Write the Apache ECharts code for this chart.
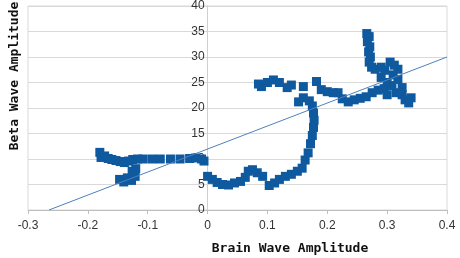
<!DOCTYPE html>
<html>
<head>
<meta charset="utf-8">
<script src="https://cdn.jsdelivr.net/npm/echarts@6/dist/echarts.min.js"></script>
<style>
  html, body { margin: 0; padding: 0; background: #fff; }
  #chart { width: 460px; height: 258px; }
</style>
</head>
<body>
<div id="chart"></div>
<script>
// brain wave amplitude (x) and beta wave amplitude (y)
const brainX = [
  -0.180, -0.178, -0.172, -0.166, -0.160, -0.153, -0.146, -0.139, -0.132, -0.125,
  -0.117, -0.108, -0.093, -0.079, -0.062, -0.046, -0.030, -0.020, -0.010, -0.006,
  -0.147, -0.140, -0.134, -0.127, -0.121, -0.126, -0.120,
  0.000, 0.008, 0.016, 0.025, 0.035, 0.045, 0.055, 0.063, 0.068, 0.075,
  0.083, 0.092, 0.103, 0.112, 0.120, 0.130, 0.140, 0.150, 0.158, 0.163,
  0.168, 0.172, 0.175, 0.177, 0.178, 0.177, 0.175, 0.170, 0.160, 0.152,
  0.160, 0.140, 0.133, 0.120, 0.110, 0.100, 0.090, 0.085,
  0.182, 0.190, 0.200, 0.210, 0.218, 0.225, 0.235, 0.245, 0.255, 0.265,
  0.275, 0.285,
  0.266, 0.270, 0.267, 0.271, 0.269, 0.272, 0.270, 0.274, 0.280, 0.290,
  0.296, 0.305, 0.312, 0.318,
  0.290, 0.300, 0.308, 0.318, 0.315, 0.300, 0.325, 0.325, 0.330, 0.336,
  0.340, 0.295, 0.310
];
const betaY = [
  11.3, 10.3, 10.6, 10.1, 9.9, 9.7, 9.5, 9.3, 9.6, 9.9,
  10.0, 10.0, 10.0, 10.0, 10.0, 10.0, 10.1, 10.2, 10.0, 9.6,
  6.0, 5.5, 6.3, 5.8, 6.6, 7.6, 8.1,
  6.6, 6.0, 5.4, 5.0, 4.9, 5.3, 5.6, 6.4, 7.6, 7.9,
  7.3, 6.6, 4.8, 5.3, 6.0, 6.6, 7.0, 7.6, 8.2, 9.8,
  11.2, 13.0, 14.6, 16.2, 17.6, 19.0, 20.4, 21.4, 22.0, 21.2,
  24.2, 24.5, 24.0, 25.0, 25.5, 25.0, 24.2, 24.7,
  25.2, 23.6, 23.2, 23.0, 23.0, 21.8, 21.2, 21.6, 21.9, 22.2,
  23.0, 23.5,
  34.6, 34.0, 33.0, 32.0, 31.0, 30.0, 29.0, 28.0, 27.6, 28.0,
  27.4, 29.0, 28.4, 27.6,
  26.0, 25.0, 24.4, 25.6, 23.0, 22.6, 24.0, 22.6, 21.6, 21.0,
  22.0, 23.8, 26.5
];

// linear trendline end points
const trendX = [-0.265, 0.4];
const trendY = [0, 30];

const xTicks = [-0.3, -0.2, -0.1, 0, 0.1, 0.2, 0.3, 0.4];
const yTicks = [0, 5, 10, 15, 20, 25, 30, 35, 40];

const points = brainX.map((x, i) => [x, betaY[i]]);
const trend = trendX.map((x, i) => [x, trendY[i]]);

const gridLeft = 28, gridRight = 13;
const plotW = 460 - gridLeft - gridRight;
// shift the y axis (line + labels) over to x = 0
const zeroShift = plotW * (0 - xTicks[0]) / (xTicks[xTicks.length - 1] - xTicks[0]);

const labelFont = { fontFamily: 'Liberation Sans', fontSize: 12, color: '#333' };
const titleFont = { fontFamily: 'DejaVu Sans Mono', fontSize: 13, fontWeight: 'bold', fill: '#111' };

let myChart = echarts.init(document.getElementById('chart'), null, { renderer: 'canvas' });
myChart.setOption({
  animation: false,
  grid: {
    left: gridLeft, right: gridRight, top: 6, bottom: 48,
    show: true, borderColor: '#d9d9d9', borderWidth: 1
  },
  xAxis: {
    type: 'value',
    min: xTicks[0], max: xTicks[xTicks.length - 1], interval: 0.1,
    axisLine: { lineStyle: { color: '#bfbfbf' } },
    axisTick: { show: true, length: 4, lineStyle: { color: '#bfbfbf' } },
    splitLine: { show: false },
    axisLabel: Object.assign({ margin: 10 }, labelFont)
  },
  yAxis: {
    type: 'value',
    min: yTicks[0], max: yTicks[yTicks.length - 1], interval: 5,
    offset: -zeroShift,
    axisLine: { show: true, onZero: false, lineStyle: { color: '#cfcfcf' } },
    axisTick: { show: false },
    splitLine: { lineStyle: { color: '#d9d9d9' } },
    axisLabel: Object.assign({ margin: 3 }, labelFont)
  },
  series: [
    {
      type: 'scatter',
      data: points,
      symbol: 'rect',
      symbolSize: 9,
      itemStyle: { color: '#0f5a9f', opacity: 1 },
      z: 2
    },
    {
      type: 'line',
      data: trend,
      showSymbol: false,
      lineStyle: { color: '#4f81bd', width: 1 },
      z: 3
    }
  ],
  graphic: [
    {
      type: 'text',
      x: 290, y: 249,
      style: Object.assign({ text: 'Brain Wave Amplitude', align: 'center', verticalAlign: 'middle' }, titleFont)
    },
    {
      type: 'text',
      x: 15, y: 76,
      rotation: Math.PI / 2,
      style: Object.assign({ text: 'Beta Wave Amplitude', align: 'center', verticalAlign: 'middle' }, titleFont)
    }
  ]
});
</script>
</body>
</html>
